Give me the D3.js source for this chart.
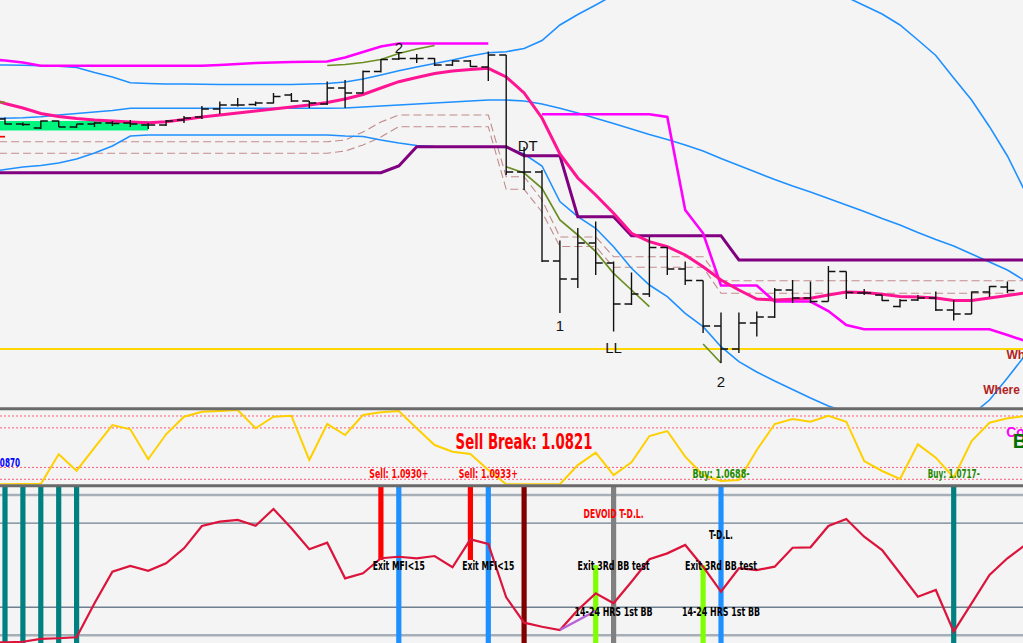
<!DOCTYPE html>
<html>
<head>
<meta charset="utf-8">
<title>EURUSD H4</title>
<script src="https://cdn.jsdelivr.net/npm/d3@7/dist/d3.min.js"></script>
<style>
  html, body { margin: 0; padding: 0; background: #f4f4f4; overflow: hidden; }
  svg { display: block; }
</style>
</head>
<body>
<script>
// chart size
const width = 1023;
const height = 643;

// OHLC bars [open, high, low, close], bar index 0..56
const bars = [
   [1.0881, 1.08825, 1.08755, 1.0876], [1.0876, 1.08775, 1.0874, 1.08755], [1.0872, 1.08795, 1.0871, 1.0879],
   [1.0879, 1.08795, 1.0873, 1.0873], [1.0873, 1.0876, 1.0872, 1.0876], [1.0876, 1.0878, 1.0873, 1.0877],
   [1.0877, 1.0879, 1.0874, 1.08765], [1.0877, 1.088, 1.0873, 1.0876], [1.0875, 1.0877, 1.0871, 1.0875],
   [1.0875, 1.088, 1.0874, 1.0879], [1.088, 1.0884, 1.0877, 1.0882], [1.0883, 1.0894, 1.0881, 1.0891],
   [1.0891, 1.08985, 1.0886, 1.0895], [1.0895, 1.0902, 1.08935, 1.0895], [1.08955, 1.08985, 1.0894, 1.0897],
   [1.0897, 1.0907, 1.08965, 1.09035], [1.0905, 1.0907, 1.0898, 1.0899], [1.0899, 1.0899, 1.0892, 1.0897],
   [1.0896, 1.09185, 1.0895, 1.0912], [1.0912, 1.092, 1.0892, 1.0907], [1.0907, 1.09295, 1.09065, 1.09285],
   [1.09285, 1.0941, 1.09275, 1.09405], [1.0941, 1.0947, 1.094, 1.09415], [1.09415, 1.0946, 1.0937, 1.09415],
   [1.09415, 1.0942, 1.0934, 1.0935], [1.0935, 1.094, 1.0934, 1.0939], [1.0939, 1.094, 1.0933, 1.09335],
   [1.0933, 1.09485, 1.0919, 1.0945], [1.0945, 1.0945, 1.0825, 1.0828], [1.0828, 1.0853, 1.081, 1.0828],
   [1.0828, 1.083, 1.0738, 1.0739], [1.0739, 1.07595, 1.0687, 1.0721], [1.0721, 1.0772, 1.0712, 1.0757],
   [1.0757, 1.07785, 1.0725, 1.0737], [1.0737, 1.07385, 1.06685, 1.0696], [1.0696, 1.07275, 1.0695, 1.0706],
   [1.0706, 1.0763, 1.0703, 1.07525], [1.07525, 1.0753, 1.0725, 1.0731], [1.0731, 1.07385, 1.0715, 1.07195],
   [1.07195, 1.07195, 1.0667, 1.0674], [1.0674, 1.06875, 1.0637, 1.0651], [1.0651, 1.06875, 1.0647, 1.0677],
   [1.0677, 1.06885, 1.06635, 1.0683], [1.0683, 1.0712, 1.0682, 1.071], [1.071, 1.072, 1.0697, 1.0702],
   [1.0702, 1.07185, 1.0697, 1.06985], [1.06985, 1.0734, 1.06985, 1.07285], [1.07285, 1.07285, 1.0701, 1.07075],
   [1.0707, 1.0711, 1.0705, 1.0707], [1.0705, 1.0705, 1.0699, 1.06995], [1.06935, 1.0701, 1.06925, 1.06995],
   [1.07, 1.0705, 1.0699, 1.0702], [1.0702, 1.07085, 1.0689, 1.069], [1.069, 1.07, 1.06795, 1.0686],
   [1.0686, 1.07085, 1.0686, 1.0708], [1.0708, 1.0714, 1.0703, 1.07135], [1.0713, 1.07185, 1.0707, 1.07095]
];

// overlays: one value per bar, first value at bar index -1
const outerUpper = [
   1.0935, 1.0935, 1.09347, 1.09343, 1.09337, 1.09325, 1.09275, 1.0923, 1.09173, 1.09165,
   1.0916, 1.0916, 1.09157, 1.09155, 1.09155, 1.09155, 1.09155, 1.09155, 1.0916, 1.09165,
   1.0918, 1.0921, 1.0925, 1.09293, 1.0933, 1.09365, 1.094, 1.0944, 1.09473, 1.09483,
   1.09515, 1.09595, 1.0975, 1.09855, 1.0995, 1.1005, 1.1013, 1.1021, 1.1028, 1.1034,
   1.1038, 1.104, 1.104, 1.1038, 1.1034, 1.1028, 1.102, 1.1011, 1.1003, 1.09945,
   1.0986, 1.0975, 1.096, 1.09445, 1.0922, 1.09, 1.08733, 1.0844, 1.0808
];
const outerMiddle = [
   1.08815, 1.08817, 1.08823, 1.08833, 1.0885, 1.08865, 1.0888, 1.08895, 1.08917, 1.08917,
   1.08917, 1.08917, 1.08917, 1.08917, 1.08917, 1.08917, 1.08917, 1.08917, 1.08917, 1.08917,
   1.0892, 1.0893, 1.0894, 1.0895, 1.0896, 1.0897, 1.0898, 1.0899, 1.09, 1.09,
   1.0899, 1.0896, 1.08917, 1.0887, 1.08817, 1.08765, 1.0871, 1.08655, 1.08605, 1.0855,
   1.0849, 1.08415, 1.08345, 1.08275, 1.08205, 1.0814, 1.0808, 1.08015, 1.0795, 1.07885,
   1.07815, 1.0775, 1.07675, 1.07605, 1.0754, 1.0746, 1.0738, 1.073, 1.0719
];
const outerLower = [
   1.0828, 1.08305, 1.0833, 1.08345, 1.0837, 1.0841, 1.0847, 1.0854, 1.0864, 1.0865,
   1.0865, 1.0865, 1.0865, 1.0865, 1.0865, 1.0865, 1.0865, 1.0865, 1.0865, 1.0865,
   1.0864, 1.08635, 1.086, 1.0857, 1.08545, 1.08535, 1.0853, 1.0853, 1.0853, 1.08525,
   1.0846, 1.0834, 1.07985, 1.07833, 1.07717, 1.07533, 1.07317, 1.0715, 1.07033, 1.06867,
   1.06733, 1.06533, 1.06383, 1.0628, 1.0619, 1.06105, 1.0602, 1.0594, 1.0588, 1.0582,
   1.0577, 1.0573, 1.0571, 1.0571, 1.0575, 1.0585, 1.06, 1.0622, 1.0645
];
const movingAverage = [
   1.0902, 1.08965, 1.0892, 1.08865, 1.08835, 1.08815, 1.088, 1.0879, 1.0878, 1.08773,
   1.08783, 1.08805, 1.0883, 1.0885, 1.0887, 1.0889, 1.0891, 1.0893, 1.0895, 1.08975,
   1.0901, 1.09055, 1.0912, 1.09183, 1.09225, 1.09265, 1.0929, 1.09305, 1.09317, 1.0923,
   1.0907, 1.0882, 1.0846, 1.0822, 1.0805, 1.07867, 1.07667, 1.07583, 1.07533, 1.0745,
   1.07333, 1.072, 1.071, 1.0701, 1.07, 1.07007, 1.07017, 1.0705, 1.0708, 1.07075,
   1.07057, 1.07035, 1.0703, 1.0702, 1.06995, 1.06995, 1.0702, 1.07045, 1.0707
];
const trailUpper = [
   1.0941, 1.09395, 1.09375, 1.09343, 1.09343, 1.09343, 1.09343, 1.09343, 1.09343, 1.09343,
   1.09343, 1.09343, 1.09343, 1.0935, 1.0936, 1.0937, 1.09375, 1.0938, 1.09383, 1.09385,
   1.09425, 1.0948, 1.09535, 1.09565, 1.09565, 1.09565, 1.09565, 1.09565, 1.09565
];
const trailLowerStart = 30;
const trailLower = [
   1.08857, 1.08857, 1.08857, 1.08857, 1.08857, 1.08857, 1.08857, 1.0883, 1.079, 1.07667,
   1.07145, 1.07145, 1.07145, 1.06985, 1.06985, 1.06985, 1.0689, 1.0675, 1.06707, 1.06707,
   1.06707, 1.06707, 1.06707, 1.06707, 1.06707, 1.06707, 1.0665, 1.0659
];
const stepLine = [
   1.08273, 1.08273, 1.08273, 1.08273, 1.08273, 1.08273, 1.08273, 1.08273, 1.08273, 1.08273,
   1.08273, 1.08273, 1.08273, 1.08273, 1.08273, 1.08273, 1.08273, 1.08273, 1.08273, 1.08273,
   1.08273, 1.08273, 1.08273, 1.0834, 1.08533, 1.08533, 1.08533, 1.08533, 1.08533, 1.08533,
   1.08443, 1.08443, 1.08443, 1.07833, 1.07833, 1.07833, 1.07643, 1.07643, 1.07643, 1.07643,
   1.07643, 1.07643, 1.074, 1.074, 1.074, 1.074, 1.074, 1.074, 1.074, 1.074,
   1.074, 1.074, 1.074, 1.074, 1.074, 1.074, 1.074, 1.074, 1.074
];
const channelUpper = [
   1.08583, 1.08583, 1.08583, 1.08583, 1.08583, 1.08583, 1.08583, 1.08583, 1.08583, 1.08583,
   1.08583, 1.08583, 1.08583, 1.08583, 1.08583, 1.08583, 1.08583, 1.08583, 1.08583, 1.08583,
   1.086, 1.0868, 1.0878, 1.0885, 1.0885, 1.0885, 1.0885, 1.0885, 1.0885, 1.08233,
   1.08233, 1.08, 1.0763, 1.0763, 1.0763, 1.07433, 1.07433, 1.07433, 1.07433, 1.07433,
   1.07433, 1.07193, 1.07193, 1.07193, 1.07193, 1.07193, 1.07193, 1.07193, 1.07193, 1.07193,
   1.07193, 1.07193, 1.07193, 1.07193, 1.07193, 1.07193, 1.07193, 1.07193, 1.07193
];
const channelLower = [
   1.08467, 1.08467, 1.08467, 1.08467, 1.08467, 1.08467, 1.08467, 1.08467, 1.08467, 1.08467,
   1.08467, 1.08467, 1.08467, 1.08467, 1.08467, 1.08467, 1.08467, 1.08467, 1.08467, 1.08467,
   1.0849, 1.0855, 1.0863, 1.08733, 1.08733, 1.08733, 1.08733, 1.08733, 1.08733, 1.08107,
   1.08107, 1.0788, 1.07535, 1.07535, 1.07535, 1.07327, 1.07327, 1.07327, 1.07327, 1.07327,
   1.07327, 1.07067, 1.07067, 1.07067, 1.07067, 1.07067, 1.07067, 1.07067, 1.07067, 1.07067,
   1.07067, 1.07067, 1.07067, 1.07067, 1.07067, 1.07067, 1.07067, 1.07067, 1.07067
];

// short trend segments [bar index, price]
const trendUp = [[18, 1.09345], [19, 1.09355], [20, 1.09375], [21, 1.09405], [22, 1.09465], [23, 1.0951], [24, 1.09545]];
const trendDown = [[28, 1.08333], [29, 1.0827], [30, 1.08117], [31, 1.078], [32, 1.0765], [33, 1.07483], [34, 1.07267], [35, 1.071], [36, 1.06933]];
const trendLast = [[39, 1.0656], [40, 1.0637]];
const stubRed = [[-1, 1.08633], [0, 1.08633]];
const stubOlive = [[-1, 1.08977], [0, 1.08977]];

const supportLevel = 1.0651;
const rangeZone = { from: -1, to: 8, top: 1.0879, bottom: 1.08695 };

const priceLabels = [
   { i: 22, p: 1.0952, t: '2' }, { i: 29.2, p: 1.0854, t: 'DT' }, { i: 31, p: 1.0674, t: '1' },
   { i: 34, p: 1.0652, t: 'LL' }, { i: 40, p: 1.06183, t: '2' }
];
const whereLabels = [{ i: 55.95, p: 1.0645, t: 'Where' }, { i: 54.65, p: 1.061, t: 'Where' }];

// money flow pane, first value at bar index -1
const mfi = [
   3.7, 3.7, 4, 4, 41.6, 20.9, 49.9, 78.6, 73.2, 35.3,
   66.9, 89.1, 95.4, 96.3, 97.6, 74.5, 89.1, 90.4, 34.4, 79.9,
   66, 91.3, 94.7, 96.3, 74.5, 53.3, 44.9, 42, 21.7, 3.7,
   3.7, 3.7, 3.7, 28, 43.6, 15.4, 31.5, 64.7, 71, 38.6,
   15.4, 7.8, 9.1, 47, 79.9, 86.2, 82.8, 90.4, 82.8, 33.1,
   20.5, 10.4, 54.2, 37.3, 12, 58.4, 81.5, 87.1, 90
];
const mfiLevels = [90, 75, 25, 10];
const breakLabel = { i: 29, v: 57.5, t: 'Sell Break: 1.0821' };
const entryLabels = [
   { i: 22, t: 'Sell: 1.0930+', side: 'sell' }, { i: 27, t: 'Sell: 1.0933+', side: 'sell' },
   { i: 40, t: 'Buy: 1.0688-', side: 'buy' }, { i: 53, t: 'Buy: 1.0717-', side: 'buy' }
];
const lastPriceLabel = { i: 0.84, v: 31.9, t: '1.0870' };

// oscillator pane, first value at bar index -1
const osc = [
   -5, -5, -4.6, -2.6, -2.1, -1.4, 22.8, 45.3, 49.4, 46,
   51.3, 62, 77.9, 81, 82.2, 78.1, 90, 76.3, 61.3, 66,
   40.6, 44.2, 54.9, 56, 54.9, 56.5, 48.5, 68.4, 65.1, 27.1,
   9, 6.1, 3.8, 18, 29.9, 22.8, 38.2, 54.2, 58.4, 64.4,
   48.9, 31.1, 47.8, 46.5, 48.9, 62.4, 62.7, 77.9, 82.9, 70.3,
   60.8, 44.2, 27.5, 32.3, 2.6, 22.8, 43, 54.9, 64.4
];
const divergence = [[31, 3.8], [33, 17.5]];
const oscLevels = [100, 80, 20, 0];

const entrySignals = [0, 1, 2, 3, 4, 53];
const sellSignals = [21, 26];
const exitSignals = [22, 27, 40];
const breakSignals = [29];
const bandSignals = [33, 39];
const lineSignals = [34];

const oscLabels = [
   { i: 22, v: 50.1, t: 'Exit MFI<15' }, { i: 27, v: 50.1, t: 'Exit MFI<15' },
   { i: 34, v: 50.1, t: 'Exit 3Rd BB test' }, { i: 40, v: 50.1, t: 'Exit 3Rd BB test' },
   { i: 34, v: 17.3, t: '14-24 HRS 1st BB' }, { i: 40, v: 17.3, t: '14-24 HRS 1st BB' },
   { i: 34, v: 87.2, t: 'DEVOID T-D.L.', warn: true }, { i: 40, v: 72.2, t: 'T-D.L.' }
];

// widths of the condensed labels as drawn on the reference
const labelWidth = {
   'Sell Break: 1.0821': 137, 'Sell: 1.0930+': 59, 'Sell: 1.0933+': 59, 'Buy: 1.0688-': 57,
   'Buy: 1.0717-': 52, '1.0870': 28, 'Exit MFI<15': 52, 'Exit 3Rd BB test': 72,
   '14-24 HRS 1st BB': 78, 'DEVOID T-D.L.': 60, 'T-D.L.': 24
};
const condensed = '"Liberation Sans Narrow", "DejaVu Sans Condensed", "Liberation Sans", sans-serif';

let svg, xScale, priceY, mfiY, oscY;

function setup() {
   svg = d3.select('body').append('svg')
      .attr('width', width)
      .attr('height', height);

   svg.append('rect').attr('width', width).attr('height', height).attr('fill', '#f4f4f4');

   xScale = d3.scaleLinear().domain([0, 56]).range([5, 1007.4]);
   priceY = d3.scaleLinear().domain([1.0593, 1.1]).range([407, 0]);
   mfiY = d3.scaleLinear().domain([0, 100]).range([487.2, 408.1]);
   oscY = d3.scaleLinear().domain([0, 100]).range([635.3, 495]);

   const defs = svg.append('defs');
   [['clipPrice', 0, 407.5], ['clipMfi', 410, 484.5], ['clipOsc', 487, height]].forEach(([id, y0, y1]) => {
      defs.append('clipPath').attr('id', id)
         .append('rect').attr('x', 0).attr('y', y0).attr('width', width).attr('height', y1 - y0);
   });

   drawPricePane();
   drawMfiPane();
   drawOscPane();

   // pane separators
   svg.append('g').selectAll('line')
      .data([408.8, 485.8])
      .join('line')
         .attr('x1', 0).attr('x2', width)
         .attr('y1', d => d).attr('y2', d => d)
         .attr('stroke', '#6a6a6a')
         .attr('stroke-width', 3);
}

function seriesPath(values, start, y) {
   return d3.line()
      .defined(d => d != null)
      .x((d, i) => xScale(start + i))
      .y(d => y(d))(values);
}

function pairPath(points, y) {
   return d3.line().x(d => xScale(d[0])).y(d => y(d[1]))(points);
}

function condensedText(g, d, x, y, size, color) {
   g.append('text')
      .attr('x', x).attr('y', y).attr('dy', '0.35em')
      .attr('text-anchor', 'middle')
      .attr('font-family', condensed)
      .attr('font-weight', 'bold')
      .attr('font-size', size)
      .attr('fill', color)
      .attr('textLength', labelWidth[d.t])
      .attr('lengthAdjust', 'spacingAndGlyphs')
      .text(d.t);
}

function drawPricePane() {
   const g = svg.append('g').attr('clip-path', 'url(#clipPrice)');

   // range box
   g.append('rect')
      .attr('x', xScale(rangeZone.from))
      .attr('y', priceY(rangeZone.top))
      .attr('width', xScale(rangeZone.to) - xScale(rangeZone.from))
      .attr('height', priceY(rangeZone.bottom) - priceY(rangeZone.top))
      .attr('fill', '#00f57f');

   // dashed channel
   [channelUpper, channelLower].forEach(s => {
      g.append('path')
         .attr('d', seriesPath(s, -1, priceY))
         .attr('fill', 'none')
         .attr('stroke', '#c28a8a')
         .attr('stroke-width', 1.1)
         .attr('stroke-dasharray', '8,4');
   });

   // support
   g.append('line')
      .attr('x1', 0).attr('x2', width)
      .attr('y1', priceY(supportLevel)).attr('y2', priceY(supportLevel))
      .attr('stroke', '#ffd700')
      .attr('stroke-width', 2);

   // bands
   [outerUpper, outerMiddle, outerLower].forEach(s => {
      g.append('path')
         .attr('d', seriesPath(s, -1, priceY))
         .attr('fill', 'none')
         .attr('stroke', '#1e90ff')
         .attr('stroke-width', 1.6);
   });

   g.append('path')
      .attr('d', seriesPath(stepLine, -1, priceY))
      .attr('fill', 'none')
      .attr('stroke', '#800080')
      .attr('stroke-width', 3);

   g.append('path')
      .attr('d', seriesPath(trailUpper, -1, priceY))
      .attr('fill', 'none')
      .attr('stroke', '#ff00ff')
      .attr('stroke-width', 2.6);

   g.append('path')
      .attr('d', seriesPath(trailLower, trailLowerStart, priceY))
      .attr('fill', 'none')
      .attr('stroke', '#ff00ff')
      .attr('stroke-width', 2.6);

   g.append('path')
      .attr('d', seriesPath(movingAverage, -1, priceY))
      .attr('fill', 'none')
      .attr('stroke', '#ff1493')
      .attr('stroke-width', 3);

   [trendUp, trendDown, trendLast, stubOlive].forEach(s => {
      g.append('path')
         .attr('d', pairPath(s, priceY))
         .attr('fill', 'none')
         .attr('stroke', '#6b8e23')
         .attr('stroke-width', 1.7);
   });

   g.append('path')
      .attr('d', pairPath(stubRed, priceY))
      .attr('fill', 'none')
      .attr('stroke', '#ff0000')
      .attr('stroke-width', 1.7);

   // OHLC bars
   g.append('g').selectAll('path')
      .data(bars)
      .join('path')
         .attr('d', (d, i) => {
            const x = xScale(i);
            return `M${x},${priceY(d[1])}V${priceY(d[2])}` +
               `M${x - 7},${priceY(d[0])}H${x}` +
               `M${x},${priceY(d[3])}H${x + 7}`;
         })
         .attr('fill', 'none')
         .attr('stroke', '#111')
         .attr('stroke-width', 1.4);

   // labels
   g.append('g').selectAll('text')
      .data(priceLabels)
      .join('text')
         .attr('x', d => xScale(d.i))
         .attr('y', d => priceY(d.p))
         .attr('dy', '0.35em')
         .attr('text-anchor', 'middle')
         .attr('font-family', '"Liberation Sans", Arial, sans-serif')
         .attr('font-size', 15)
         .attr('fill', '#111')
         .text(d => d.t);

   g.append('g').selectAll('text')
      .data(whereLabels)
      .join('text')
         .attr('x', d => xScale(d.i))
         .attr('y', d => priceY(d.p))
         .attr('dy', '0.35em')
         .attr('font-family', '"Liberation Sans", Arial, sans-serif')
         .attr('font-weight', 'bold')
         .attr('font-size', 12)
         .attr('fill', '#b22222')
         .text(d => d.t);
}

function drawMfiPane() {
   const g = svg.append('g').attr('clip-path', 'url(#clipMfi)');

   g.append('g').selectAll('line')
      .data(mfiLevels)
      .join('line')
         .attr('x1', 0).attr('x2', width)
         .attr('y1', d => mfiY(d)).attr('y2', d => mfiY(d))
         .attr('stroke', '#ff5a78')
         .attr('stroke-width', 1)
         .attr('stroke-dasharray', '2,2');

   g.append('path')
      .attr('d', seriesPath(mfi, -1, mfiY))
      .attr('fill', 'none')
      .attr('stroke', '#ffd000')
      .attr('stroke-width', 2);

   condensedText(g, breakLabel, xScale(breakLabel.i), mfiY(breakLabel.v), 22, '#ff0000');

   entryLabels.forEach(d => {
      condensedText(g, d, xScale(d.i), mfiY(18), 13, d.side === 'sell' ? '#ff0000' : '#1d8a00');
   });

   g.append('text')
      .attr('x', xScale(lastPriceLabel.i)).attr('y', mfiY(lastPriceLabel.v)).attr('dy', '0.35em')
      .attr('text-anchor', 'end')
      .attr('font-family', condensed)
      .attr('font-weight', 'bold')
      .attr('font-size', 13)
      .attr('fill', '#0000ff')
      .attr('textLength', labelWidth[lastPriceLabel.t])
      .attr('lengthAdjust', 'spacingAndGlyphs')
      .text(lastPriceLabel.t);

   g.append('text')
      .attr('x', xScale(55.93)).attr('y', mfiY(69.8)).attr('dy', '0.35em')
      .attr('font-family', '"Liberation Sans", Arial, sans-serif')
      .attr('font-weight', 'bold')
      .attr('font-size', 14)
      .attr('fill', '#ff00ff')
      .text('Cover');

   g.append('text')
      .attr('x', xScale(56.3)).attr('y', mfiY(58.4)).attr('dy', '0.35em')
      .attr('font-family', '"Liberation Sans", Arial, sans-serif')
      .attr('font-weight', 'bold')
      .attr('font-size', 20)
      .attr('fill', '#007000')
      .text('Buy');
}

function drawOscPane() {
   const g = svg.append('g').attr('clip-path', 'url(#clipOsc)');
   const top = 487;
   const bottom = height;

   g.append('g').selectAll('line')
      .data(oscLevels)
      .join('line')
         .attr('x1', 0).attr('x2', width)
         .attr('y1', d => oscY(d)).attr('y2', d => oscY(d))
         .attr('stroke', d => (d === 100 || d === 0) ? '#a6aeb8' : '#6f7f8f')
         .attr('stroke-width', d => (d === 100 || d === 0) ? 2.5 : 1.3);

   // signal bars
   const signalStyle = [
      { ids: entrySignals, color: '#008080', y0: top, y1: bottom },
      { ids: sellSignals, color: '#ff0000', y0: top, y1: oscY(53.7) },
      { ids: exitSignals, color: '#1e90ff', y0: top, y1: bottom },
      { ids: breakSignals, color: '#800000', y0: top, y1: bottom },
      { ids: bandSignals, color: '#7fff00', y0: oscY(50), y1: bottom },
      { ids: lineSignals, color: '#808080', y0: top, y1: bottom }
   ];
   signalStyle.forEach(s => {
      g.append('g').selectAll('rect')
         .data(s.ids)
         .join('rect')
            .attr('x', d => xScale(d) - 2.6)
            .attr('width', 5.2)
            .attr('y', s.y0)
            .attr('height', s.y1 - s.y0)
            .attr('fill', s.color);
   });

   g.append('path')
      .attr('d', seriesPath(osc, -1, oscY))
      .attr('fill', 'none')
      .attr('stroke', '#dc143c')
      .attr('stroke-width', 2.2);

   g.append('path')
      .attr('d', pairPath(divergence, oscY))
      .attr('fill', 'none')
      .attr('stroke', '#b860d8')
      .attr('stroke-width', 2.4);

   oscLabels.forEach(d => {
      condensedText(g, d, xScale(d.i), oscY(d.v), 13, d.warn ? '#ff0000' : '#000');
   });
}

setup();
</script>
</body>
</html>
